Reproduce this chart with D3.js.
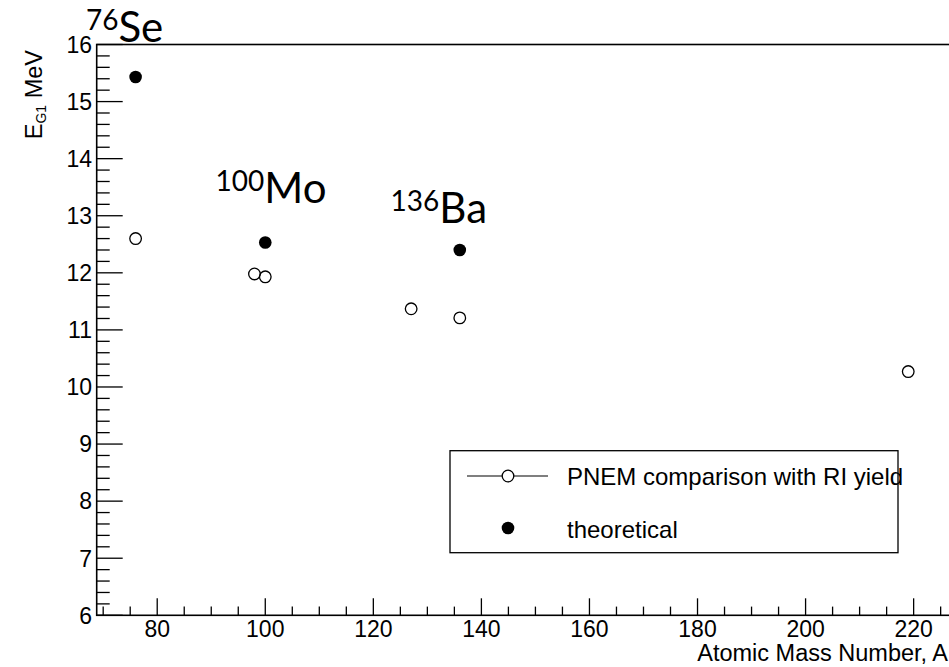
<!DOCTYPE html>
<html>
<head>
<meta charset="utf-8">
<script src="https://cdn.jsdelivr.net/npm/d3@7"></script>
<style>
  body { margin: 0; background: #fff; }
  svg { display: block; }
  text { fill: #000; }
</style>
</head>
<body>
<div id="chart"></div>
<script>
// measured points: PNEM comparison with RI yield
const pnemA = [76, 98, 100, 127, 136, 219];
const pnemE = [12.60, 11.98, 11.93, 11.37, 11.21, 10.27];
// theoretical values
const theoA = [76, 100, 136];
const theoE = [15.43, 12.53, 12.40];
// nucleus labels (anchored in data coordinates)
const nucMass = ["76", "100", "136"];
const nucSym = ["Se", "Mo", "Ba"];
const nucA = [66.8, 90.8, 123.2];
const nucE = [16.05, 13.23, 12.88];

const xTicks = [80, 100, 120, 140, 160, 180, 200, 220];
const yTicks = [6, 7, 8, 9, 10, 11, 12, 13, 14, 15, 16];
const legendLabels = ["PNEM comparison with RI yield", "theoretical"];

const width = 949,
      height = 667;
const frameL = 96.7, frameT = 44.5, frameB = 615.3, frameR = 952;
const axisFont = "'Liberation Sans', Arial, Helvetica, sans-serif";

const svg = d3.select("#chart")
  .append("svg")
  .attr("width", width)
  .attr("height", height);

const x = d3.scaleLinear().domain([68.8, 227.1]).range([frameL, frameR]);
const y = d3.scaleLinear().domain([6, 16]).range([frameB, frameT]);

// frame
svg.append("rect")
  .attr("x", frameL).attr("y", frameT)
  .attr("width", frameR - frameL).attr("height", frameB - frameT)
  .attr("fill", "none").attr("stroke", "#000").attr("stroke-width", 1.6);

// x ticks (major every 20, minor every 5)
const xMinor = d3.range(70, 227, 5);
svg.selectAll(".xtick")
  .data(xMinor)
  .enter().append("line")
  .attr("x1", d => x(d)).attr("x2", d => x(d))
  .attr("y1", frameB)
  .attr("y2", d => frameB - (d % 20 === 0 ? 17 : 8.7))
  .attr("stroke", "#000").attr("stroke-width", 1.3);

svg.selectAll(".xlab")
  .data(xTicks)
  .enter().append("text")
  .attr("x", d => x(d)).attr("y", 637)
  .attr("text-anchor", "middle")
  .style("font-family", axisFont).style("font-size", "23px")
  .text(d => d);

// y ticks (major every 1, minor every 0.2)
const yMinor = d3.range(0, 51).map(i => 6 + i * 0.2);
svg.selectAll(".ytick")
  .data(yMinor)
  .enter().append("line")
  .attr("x1", frameL)
  .attr("x2", (d, i) => frameL + (i % 5 === 0 ? 26 : 13))
  .attr("y1", d => y(d)).attr("y2", d => y(d))
  .attr("stroke", "#000").attr("stroke-width", 1.3);

svg.selectAll(".ylab")
  .data(yTicks)
  .enter().append("text")
  .attr("x", 92).attr("y", d => y(d))
  .attr("dy", "0.36em")
  .attr("text-anchor", "end")
  .style("font-family", axisFont).style("font-size", "23px")
  .text(d => d);

// axis titles
svg.append("text")
  .attr("x", 948).attr("y", 661)
  .attr("text-anchor", "end")
  .style("font-family", axisFont).style("font-size", "23.5px")
  .text("Atomic Mass Number, A");

const yTitle = svg.append("text")
  .attr("transform", "translate(42,50) rotate(-90)")
  .attr("text-anchor", "end")
  .style("font-family", axisFont).style("font-size", "23.5px");
yTitle.append("tspan").text("E");
yTitle.append("tspan").attr("dy", 4).style("font-size", "14px").text("G1");
yTitle.append("tspan").attr("dy", -4).text(" MeV");

// data points
svg.selectAll(".pnem")
  .data(pnemA)
  .enter().append("circle")
  .attr("cx", d => x(d))
  .attr("cy", (d, i) => y(pnemE[i]))
  .attr("r", 5.8)
  .attr("fill", "none").attr("stroke", "#000").attr("stroke-width", 1.3);

svg.selectAll(".theo")
  .data(theoA)
  .enter().append("circle")
  .attr("cx", d => x(d))
  .attr("cy", (d, i) => y(theoE[i]))
  .attr("r", 6.3)
  .attr("fill", "#000");

// nucleus labels
nucSym.forEach((sym, i) => {
  const t = svg.append("text")
    .attr("x", x(nucA[i])).attr("y", y(nucE[i]))
    .style("font-family", "Lato, 'Open Sans', sans-serif");
  t.append("tspan").style("font-size", "28px").attr("dy", -12).text(nucMass[i]);
  t.append("tspan").style("font-size", "42px").attr("dy", 12).text(sym);
});

// legend
const lg = svg.append("g");
lg.append("rect")
  .attr("x", 450).attr("y", 450.7)
  .attr("width", 448).attr("height", 102)
  .attr("fill", "#fff").attr("stroke", "#000").attr("stroke-width", 1.3);
lg.append("line")
  .attr("x1", 467).attr("x2", 548).attr("y1", 476).attr("y2", 476)
  .attr("stroke", "#000").attr("stroke-width", 1.2);
lg.append("circle")
  .attr("cx", 508).attr("cy", 476).attr("r", 5.8)
  .attr("fill", "#fff").attr("stroke", "#000").attr("stroke-width", 1.3);
lg.append("circle")
  .attr("cx", 508).attr("cy", 528).attr("r", 6.3)
  .attr("fill", "#000");
lg.selectAll(".ltxt")
  .data(legendLabels)
  .enter().append("text")
  .attr("x", 567).attr("y", (d, i) => 485 + i * 53)
  .style("font-family", axisFont).style("font-size", "24px")
  .text(d => d);
</script>
</body>
</html>
